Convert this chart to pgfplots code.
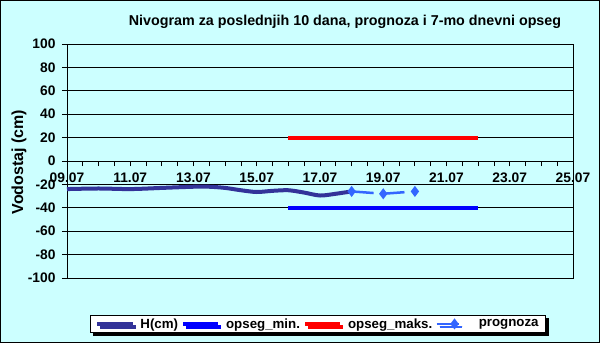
\documentclass[border=0pt]{standalone}
\usepackage{fontspec}
\setmainfont{Liberation Sans}
\usepackage{pgfplots}
\pgfplotsset{compat=1.18}
\usetikzlibrary{shadows}
\definecolor{bg}{RGB}{204,255,255}
\definecolor{hcol}{RGB}{51,51,153}
\definecolor{pcol}{RGB}{51,102,255}
\pgfplotsset{proglegend/.style={legend image code/.code={\draw[mark indices={2},##1] plot coordinates {(0pt,0pt) (18pt,0pt) (23pt,0pt)}; \path (35pt,0pt);}}}
\begin{document}
\begin{tikzpicture}[x=1pt,y=1pt,font=\fontsize{13.8}{16}\selectfont\bfseries]
\fill[bg] (0,0) rectangle (600,343);
\draw[black, line width=1pt] (0.5,0.5) rectangle (599.5,342.5);
\node[font=\fontsize{14.3}{16}\selectfont\bfseries] at (345,321) {Nivogram za poslednjih 10 dana, prognoza i 7-mo dnevni opseg};
\node[rotate=90, font=\fontsize{16}{18}\selectfont\bfseries] at (19,181) {Vodostaj (cm)};
\begin{axis}[at={(67pt,65pt)}, anchor=south west, scale only axis,
  width=506pt, height=234pt,
  xmin=9, xmax=25, ymin=-100, ymax=100,
  axis x line*=middle, axis y line*=left,
  hide obscured x ticks=false,
  axis line style={-, black, line width=0.8pt},
  xtick={9,11,...,25},
  xticklabels={09.07,11.07,13.07,15.07,17.07,19.07,21.07,23.07,25.07},
  minor xtick={9,9.5,...,25},
  ytick={-100,-80,...,100},
  ymajorgrids, grid style={black, line width=0.8pt},
  xtick align=outside, ytick align=outside,
  major tick length=5pt, minor tick length=5pt,
  tick style={black, line width=0.8pt},
  minor tick style={black, line width=0.8pt},
  /pgf/number format/assume math mode=true,
  tick label style={font=\fontsize{13.8}{16}\selectfont\bfseries},
  yticklabel style={xshift=-3pt},
  xticklabel style={yshift=-3pt},
  legend columns=4,
  legend style={at={(axis description cs:0.0455,-0.158)}, anchor=north west,
    draw=black, fill=white, line width=0.8pt,
    font=\fontsize{13.3}{16}\selectfont\bfseries,
    inner ysep=1pt, inner xsep=5pt,
    drop shadow={shadow xshift=3pt, shadow yshift=-3pt, fill=black, opacity=1},
    /tikz/every odd column/.append style={column sep=4pt},
    /tikz/every even column/.append style={column sep=1pt}},
  legend image code/.code={\draw[mark repeat=2,mark phase=2,#1] plot coordinates {(0pt,0pt) (17.5pt,0pt) (35pt,0pt)};},
  clip=false,
]
\draw[black, line width=0.8pt] (rel axis cs:0,0) rectangle (rel axis cs:1,1);
\addplot[hcol, line width=4pt, smooth, tension=0.5] coordinates {
 (9,-24) (10,-23.5) (11,-24) (12,-23) (13,-22) (13.5,-22) (14,-23) (14.5,-25)
 (15,-26.5) (15.5,-25.5) (16,-25) (16.5,-27) (17,-29.5) (17.5,-28) (18,-26)};
\addlegendentry{H(cm)}
\addplot[blue, line width=4pt] coordinates {(16,-40) (22,-40)};
\addlegendentry{opseg\_min.}
\addplot[red, line width=4pt] coordinates {(16,20) (22,20)};
\addlegendentry{opseg\_maks.}
\addplot[pcol, line width=2.5pt, dash pattern=on 22pt off 9pt, mark=diamond*, mark size=3.5pt, mark options={solid}, proglegend] coordinates {(18,-26) (19,-28) (20,-26)};
\addlegendentry{prognoza}
\end{axis}
\end{tikzpicture}
\end{document}
